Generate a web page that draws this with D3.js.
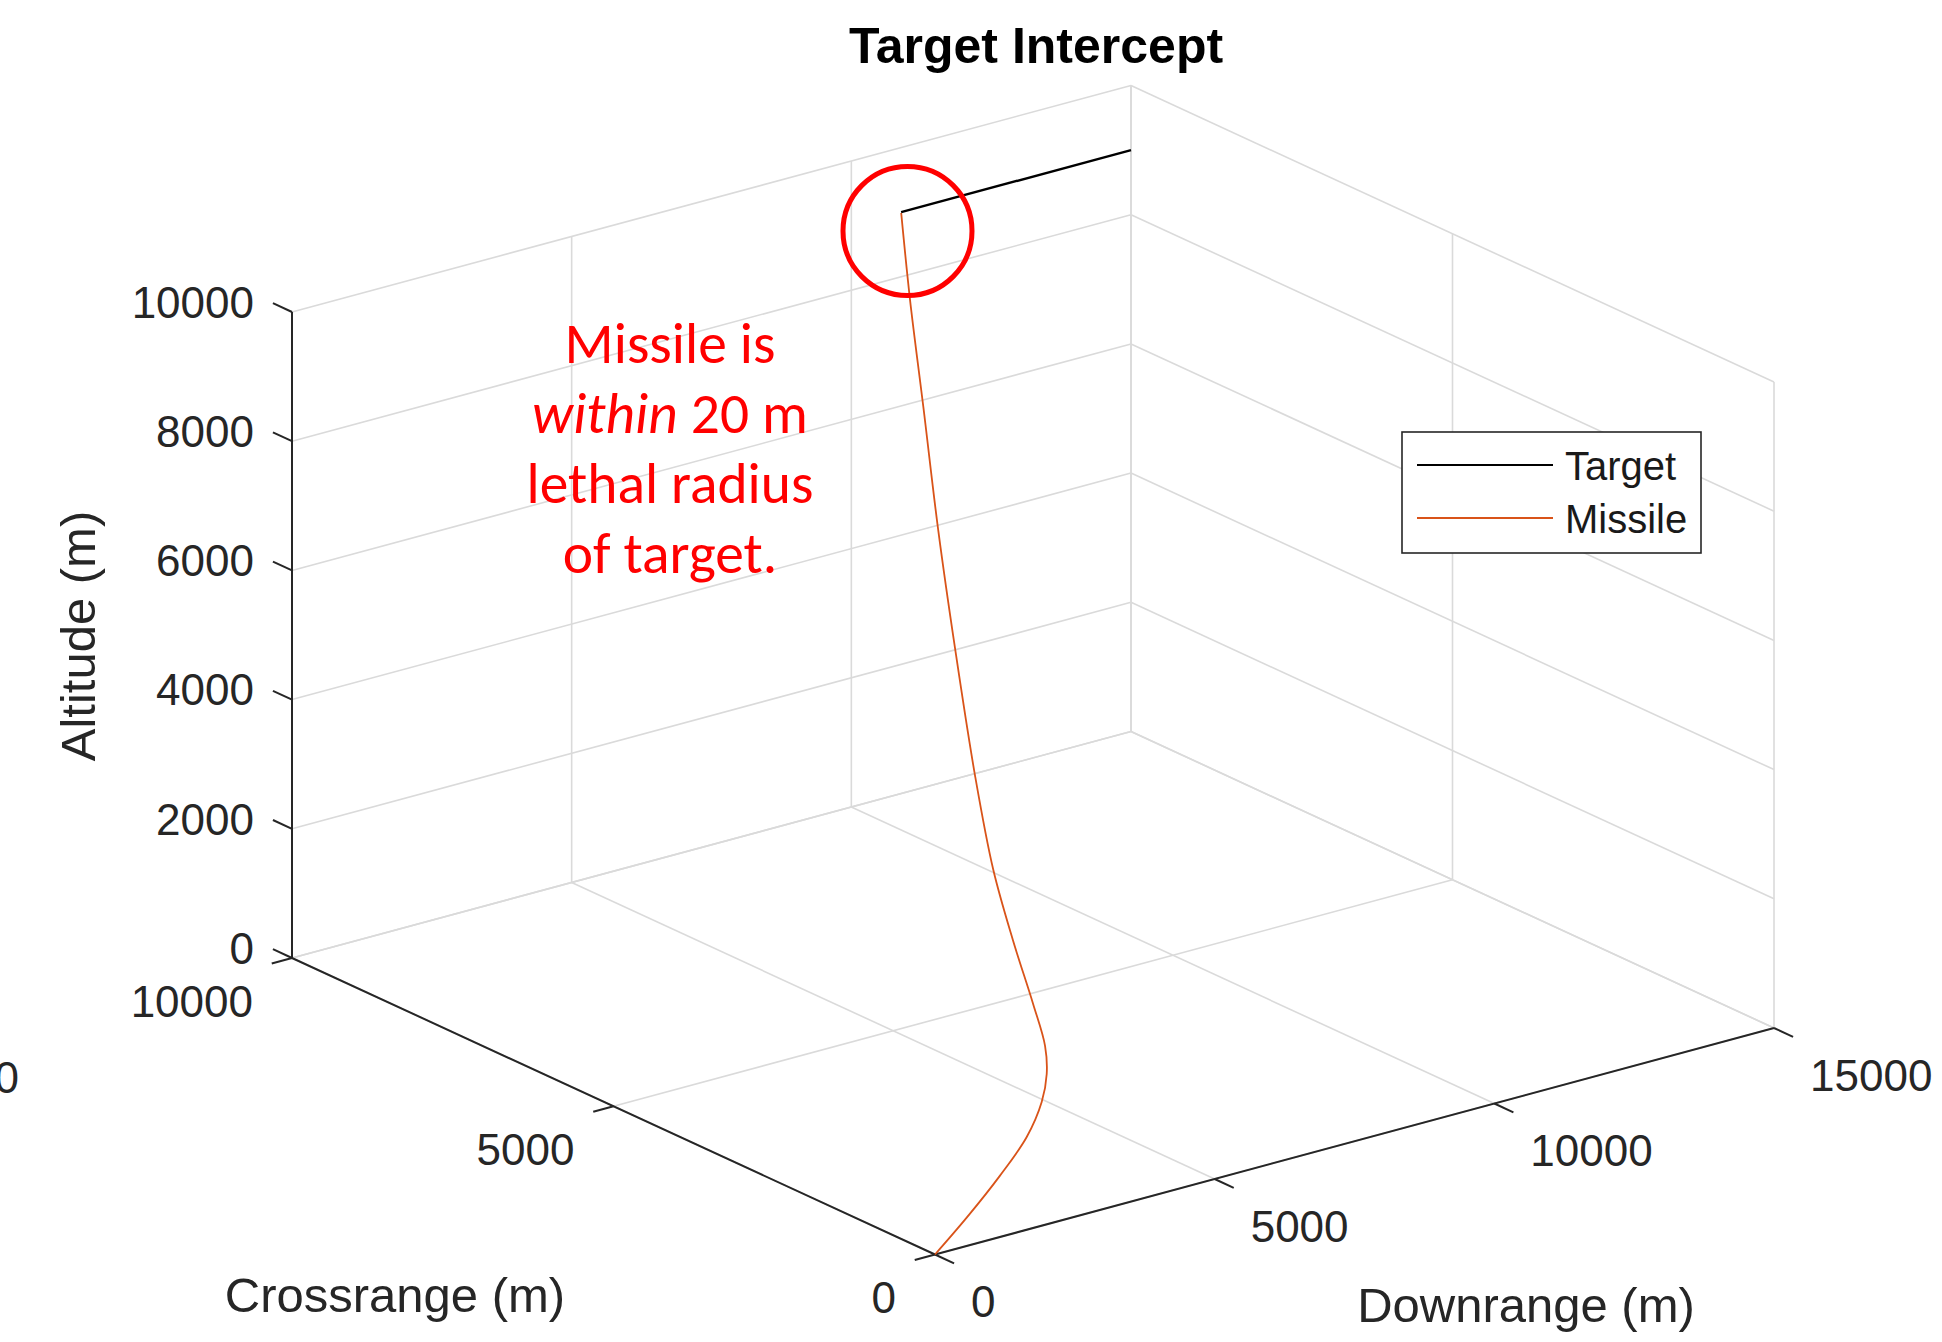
<!DOCTYPE html>
<html>
<head>
<meta charset="utf-8">
<script src="https://cdn.jsdelivr.net/npm/d3@7"></script>
<style>
  html, body { margin: 0; padding: 0; background: #fff; }
  svg { display: block; }
</style>
</head>
<body>
<svg id="chart" width="1942" height="1342"></svg>
<script>
// ---- Trajectory samples (metres) ----
const targetDownrange  = [15000, 10890];
const targetCrossrange = [10000, 10000];
const targetAltitude   = [9000, 9000];

const missileDownrange  = [0, 755, 1584, 2303, 2849, 3209, 3493, 3813, 4269, 4808, 5621, 6772, 7848, 9017, 10024, 10880];
const missileCrossrange = [0, 164, 367, 577, 819, 1054, 1327, 1792, 2500, 3275, 4267, 5580, 6775, 8025, 9108, 9990];
const missileAltitude   = [0, 318, 682, 1016, 1319, 1561, 1805, 2169, 2716, 3325, 4142, 5245, 6257, 7330, 8255, 8995];

// ---- Axis ticks ----
const downrangeTicks  = [0, 5000, 10000, 15000];
const crossrangeTicks = [0, 5000, 10000];
const altitudeTicks   = [0, 2000, 4000, 6000, 8000, 10000];

const seriesNames  = ["Target", "Missile"];
const seriesColors = ["#000000", "#D95319"];

const noteLines = [["Missile is"], ["within", " 20 m"], ["lethal radius"], ["of target."]];

// ---- Orthographic 3-D view ----
const svg = d3.select("#chart");
const origin   = [935, 1254.5];      // screen position of (0,0,0)
const dirDown  = [839, -226.5];      // full downrange span on screen
const dirCross = [-643, -296.5];     // full crossrange span on screen
const dirAlt   = [0, -646];          // full altitude span on screen

const sDown  = d3.scaleLinear().domain([0, 15000]).range([0, 1]);
const sCross = d3.scaleLinear().domain([0, 10000]).range([0, 1]);
const sAlt   = d3.scaleLinear().domain([0, 10000]).range([0, 1]);
const dMax = sDown.domain()[1], cMax = sCross.domain()[1], hMax = sAlt.domain()[1];

function project(d, c, h) {
  const a = sDown(d), b = sCross(c), z = sAlt(h);
  return [origin[0] + a * dirDown[0] + b * dirCross[0] + z * dirAlt[0],
          origin[1] + a * dirDown[1] + b * dirCross[1] + z * dirAlt[1]];
}
function unit(v) { const n = Math.hypot(v[0], v[1]); return [v[0] / n, v[1] / n]; }
const uDown = unit(dirDown), uCross = unit(dirCross);

const FONT = "'Liberation Sans', Arial, Helvetica, sans-serif";
const axisColor = "#262626";

// ---- Grid on the three back planes ----
const grid = svg.append("g").attr("stroke", "#dadada").attr("stroke-width", 1.6).attr("fill", "none");
function seg(g, p, q) {
  g.append("line").attr("x1", p[0]).attr("y1", p[1]).attr("x2", q[0]).attr("y2", q[1]);
}
// floor
downrangeTicks.forEach(d => seg(grid, project(d, 0, 0), project(d, cMax, 0)));
crossrangeTicks.forEach(c => seg(grid, project(0, c, 0), project(dMax, c, 0)));
// wall at far crossrange
downrangeTicks.forEach(d => seg(grid, project(d, cMax, 0), project(d, cMax, hMax)));
altitudeTicks.forEach(h => seg(grid, project(0, cMax, h), project(dMax, cMax, h)));
// wall at far downrange
crossrangeTicks.forEach(c => seg(grid, project(dMax, c, 0), project(dMax, c, hMax)));
altitudeTicks.forEach(h => seg(grid, project(dMax, 0, h), project(dMax, cMax, h)));

// ---- Axes ----
const axes = svg.append("g").attr("stroke", axisColor).attr("stroke-width", 2).attr("fill", "none");
seg(axes, project(0, 0, 0), project(0, cMax, 0));
seg(axes, project(0, 0, 0), project(dMax, 0, 0));
seg(axes, project(0, cMax, 0), project(0, cMax, hMax));

const tickLen = 21;
const labels = svg.append("g").attr("font-family", FONT).attr("font-size", 44).attr("fill", axisColor);
const capMid = 0.358 * 44;

altitudeTicks.forEach(h => {
  const p = project(0, cMax, h);
  seg(axes, p, [p[0] + uCross[0] * tickLen, p[1] + uCross[1] * tickLen]);
  labels.append("text").attr("x", p[0] - 38).attr("y", p[1] - 10 + capMid)
    .attr("text-anchor", "end").text(d3.format("d")(h));
});
crossrangeTicks.forEach(c => {
  const p = project(0, c, 0);
  seg(axes, p, [p[0] - uDown[0] * tickLen, p[1] - uDown[1] * tickLen]);
  labels.append("text").attr("x", p[0] - 39).attr("y", p[1] + 43 + capMid)
    .attr("text-anchor", "end").text(d3.format("d")(c));
});
downrangeTicks.forEach(d => {
  const p = project(d, 0, 0);
  seg(axes, p, [p[0] - uCross[0] * tickLen, p[1] - uCross[1] * tickLen]);
  labels.append("text").attr("x", p[0] + 36).attr("y", p[1] + 47 + capMid)
    .attr("text-anchor", "start").text(d3.format("d")(d));
});
// stray label at the left margin
labels.append("text").attr("x", 19).attr("y", 1093).attr("text-anchor", "end").text("0");

// ---- Axis titles ----
const titles = svg.append("g").attr("font-family", FONT).attr("fill", axisColor).attr("font-size", 49);
titles.append("text").attr("transform", "translate(95,636) rotate(-90)")
  .attr("text-anchor", "middle").text("Altitude (m)");
titles.append("text").attr("x", 395).attr("y", 1312).attr("text-anchor", "middle").text("Crossrange (m)");
titles.append("text").attr("x", 1526).attr("y", 1322).attr("text-anchor", "middle").text("Downrange (m)");

svg.append("text").attr("x", 1036).attr("y", 63).attr("text-anchor", "middle")
  .attr("font-family", FONT).attr("font-weight", "bold").attr("font-size", 50).attr("fill", "#000")
  .text("Target Intercept");

// ---- Trajectories ----
const missilePts = missileDownrange.map((d, i) => project(d, missileCrossrange[i], missileAltitude[i]));
const targetPts  = targetDownrange.map((d, i) => project(d, targetCrossrange[i], targetAltitude[i]));

svg.append("path").attr("d", d3.line().curve(d3.curveCatmullRom.alpha(0.5))(missilePts))
  .attr("fill", "none").attr("stroke", seriesColors[1]).attr("stroke-width", 1.8);
svg.append("path").attr("d", d3.line()(targetPts))
  .attr("fill", "none").attr("stroke", seriesColors[0]).attr("stroke-width", 2.4);

// ---- Legend ----
const legend = svg.append("g");
legend.append("rect").attr("x", 1402).attr("y", 432).attr("width", 299).attr("height", 121)
  .attr("fill", "#fff").attr("stroke", axisColor).attr("stroke-width", 1.6);
seriesNames.forEach((name, i) => {
  const y = 465 + i * 53;
  legend.append("line").attr("x1", 1417).attr("x2", 1553).attr("y1", y).attr("y2", y)
    .attr("stroke", seriesColors[i]).attr("stroke-width", i === 0 ? 2.2 : 1.8);
  legend.append("text").attr("x", 1565).attr("y", y + 15).attr("font-family", FONT)
    .attr("font-size", 40).attr("fill", "#1a1a1a").text(name);
});

// ---- Callout ----
const note = svg.append("g").attr("fill", "#ff0000")
  .attr("font-family", "Carlito, Calibri, Lato, 'Open Sans', sans-serif").attr("text-anchor", "middle");
const noteTexts = noteLines.map((parts, i) => {
  const t = note.append("text").attr("x", 670).attr("y", 363 + i * 70).attr("font-size", 57);
  parts.forEach((p, j) => {
    const ts = t.append("tspan").text(p);
    if (parts.length > 1 && j === 0) ts.attr("font-style", "italic");
  });
  return t;
});
// size the callout so its widest line spans the intended width
const widest = noteTexts[2].node().getComputedTextLength();
const fs = 57 * 287 / widest;
noteTexts.forEach(t => t.attr("font-size", fs));

svg.append("circle").attr("cx", 907.5).attr("cy", 231).attr("r", 64.5)
  .attr("fill", "none").attr("stroke", "#ff0000").attr("stroke-width", 5);
</script>
</body>
</html>
